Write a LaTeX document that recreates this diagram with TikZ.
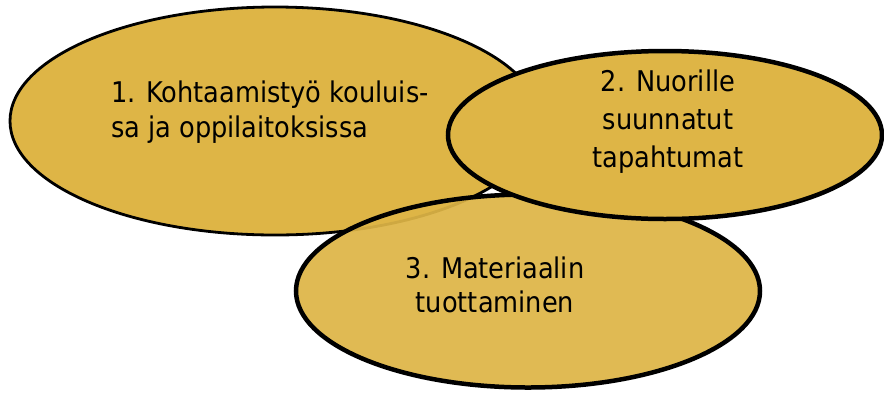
\documentclass[tikz,border=0pt]{standalone}
\usepackage{fontspec}
\setmainfont{DejaVu Sans Condensed}
\usetikzlibrary{shapes.geometric}
\definecolor{gold}{RGB}{222,181,70}
\tikzset{
  blob/.style={ellipse, draw=black, fill=gold, inner sep=0pt},
  lbl/.style={font=\fontsize{28.5}{35}\selectfont, inner sep=0pt, text=black}
}
\begin{document}
\begin{tikzpicture}[x=1pt,y=-1pt]
\useasboundingbox (0,0) rectangle (884,392);
\node[blob, line width=2.8pt, minimum width=530pt, minimum height=228pt] (e1) at (275,121) {};
\node[blob, line width=4.5pt, fill opacity=0.93, minimum width=464pt, minimum height=193pt] (e3) at (528,291) {};
\node[blob, line width=4.5pt, minimum width=434pt, minimum height=168pt] (e2) at (665,135) {};
\node[lbl, align=left, anchor=north west] (t1) at (111,81) {1. Kohtaamistyö kouluis-\\sa ja oppilaitoksissa};
\node[lbl, align=center, font=\fontsize{28.5}{38}\selectfont] (t2) at (668,122) {2. Nuorille\\suunnatut\\tapahtumat};
\node[lbl, align=center, font=\fontsize{28.5}{34}\selectfont] (t3) at (495,285) {3. Materiaalin\\tuottaminen};
\end{tikzpicture}
\end{document}
